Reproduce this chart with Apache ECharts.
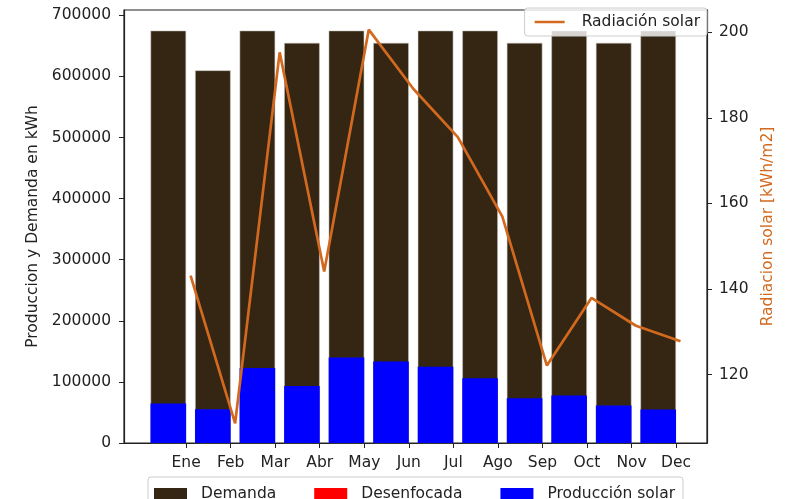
<!DOCTYPE html>
<html>
<head>
<meta charset="utf-8">
<script src="https://cdn.jsdelivr.net/npm/echarts@6/dist/echarts.min.js"></script>
<style>html,body{margin:0;padding:0;background:#fff;}#c{width:786px;height:499px;}</style>
</head>
<body>
<div id="c"></div>
<script>
const months = ['Ene','Feb','Mar','Abr','May','Jun','Jul','Ago','Sep','Oct','Nov','Dec'];
const demanda = [675000, 610000, 675000, 655000, 675000, 655000, 675000, 675000, 655000, 675000, 655000, 675000];
const desenfocada = [0, 0, 0, 0, 0, 0, 0, 0, 0, 0, 0, 0];
const produccion = [64500, 55200, 122700, 93300, 139800, 133200, 125000, 105900, 73200, 77600, 61200, 54700];
const radiacion = [143.1, 108.6, 195.3, 144.1, 200.6, 186.8, 175.5, 156.9, 122.1, 137.9, 131.4, 127.8];
const leftTicks = [0, 100000, 200000, 300000, 400000, 500000, 600000, 700000];
const rightTicks = [120, 140, 160, 180, 200];

const FONT = 'DejaVu Sans';
const TXT = '#222';
const FS = 15.5;
const idx = months.map((m, i) => i);
const barPos = i => i - 0.4;
const linePos = i => i + 0.1;

const chart = echarts.init(document.getElementById('c'), null, {renderer: 'canvas'});
chart.setOption({
  animation: false,
  backgroundColor: '#fff',
  textStyle: {fontFamily: FONT},
  grid: {left: 124, right: 79, top: 10, bottom: 56, show: true, borderColor: '#222', borderWidth: 1.2, backgroundColor: 'transparent'},
  legend: [
    {
      data: [{name: 'Radiación solar', icon: 'rect'}],
      right: 79, top: 8,
      itemWidth: 30, itemHeight: 2.5,
      itemStyle: {borderWidth: 0},
      borderColor: '#ccc', borderWidth: 1, borderRadius: 3,
      backgroundColor: 'rgba(255,255,255,0.8)',
      padding: [6, 7, 6, 10],
      textStyle: {fontFamily: FONT, fontSize: FS, color: TXT, padding: [0, 0, 0, 12]}
    },
    {
      data: [{name: 'Demanda', icon: 'rect'}, {name: 'Desenfocada', icon: 'rect'}, {name: 'Producción solar', icon: 'rect'}],
      left: 148, top: 477,
      itemWidth: 33, itemHeight: 12, itemGap: 38,
      itemStyle: {borderWidth: 0},
      borderColor: '#ccc', borderWidth: 1, borderRadius: 3,
      backgroundColor: '#fff',
      padding: [9, 8, 9, 6],
      textStyle: {fontFamily: FONT, fontSize: FS, color: TXT, padding: [0, 0, 0, 9]}
    }
  ],
  xAxis: {
    type: 'value', min: -1.395, max: 11.695,
    axisLine: {show: true, onZero: false, lineStyle: {color: '#222', width: 1.2}},
    axisTick: {show: true, customValues: idx, length: 5, lineStyle: {color: '#222'}},
    axisLabel: {customValues: idx, formatter: v => months[Math.round(v)] || '', fontFamily: FONT, fontSize: FS, color: TXT, margin: 12},
    splitLine: {show: false}
  },
  yAxis: [
    {
      type: 'value', min: 0, max: 708750, position: 'left',
      name: 'Produccion y Demanda en kWh', nameLocation: 'middle', nameGap: 73,
      nameTextStyle: {fontFamily: FONT, fontSize: FS, color: TXT},
      axisLine: {show: true, onZero: false, lineStyle: {color: '#222', width: 1.2}},
      axisTick: {show: true, customValues: leftTicks, length: 5, lineStyle: {color: '#222'}},
      axisLabel: {customValues: leftTicks, formatter: v => String(Math.round(v)), fontFamily: FONT, fontSize: FS, color: TXT, margin: 13},
      splitLine: {show: false}
    },
    {
      type: 'value', min: 104.0, max: 205.2, position: 'right',
      name: 'Radiacion solar [kWh/m2]', nameLocation: 'middle', nameGap: 47,
      nameTextStyle: {fontFamily: FONT, fontSize: FS, color: '#d2691e'},
      axisLine: {show: true, onZero: false, lineStyle: {color: '#222', width: 1.2}},
      axisTick: {show: true, customValues: rightTicks, length: 5, lineStyle: {color: '#222'}},
      axisLabel: {customValues: rightTicks, formatter: v => String(Math.round(v)), fontFamily: FONT, fontSize: FS, color: TXT, margin: 12},
      splitLine: {show: false}
    }
  ],
  series: [
    {
      name: 'Demanda', type: 'bar', yAxisIndex: 0, barWidth: 35.6, barGap: '-100%',
      itemStyle: {color: '#352614', borderColor: 'rgba(200,195,190,0.9)', borderWidth: 0.6},
      data: demanda.map((v, i) => [barPos(i), v])
    },
    {
      name: 'Desenfocada', type: 'bar', yAxisIndex: 0, barWidth: 35.6, barGap: '-100%',
      itemStyle: {color: '#ff0000'},
      data: desenfocada.map((v, i) => [barPos(i), v])
    },
    {
      name: 'Producción solar', type: 'bar', yAxisIndex: 0, barWidth: 35.6, barGap: '-100%',
      itemStyle: {color: '#0000ff'},
      data: produccion.map((v, i) => [barPos(i), v])
    },
    {
      name: 'Radiación solar', type: 'line', yAxisIndex: 1, symbol: 'none', z: 5,
      lineStyle: {color: '#d2691e', width: 2.7},
      itemStyle: {color: '#d2691e'},
      data: radiacion.map((v, i) => [linePos(i), v])
    }
  ]
});
</script>
</body>
</html>
